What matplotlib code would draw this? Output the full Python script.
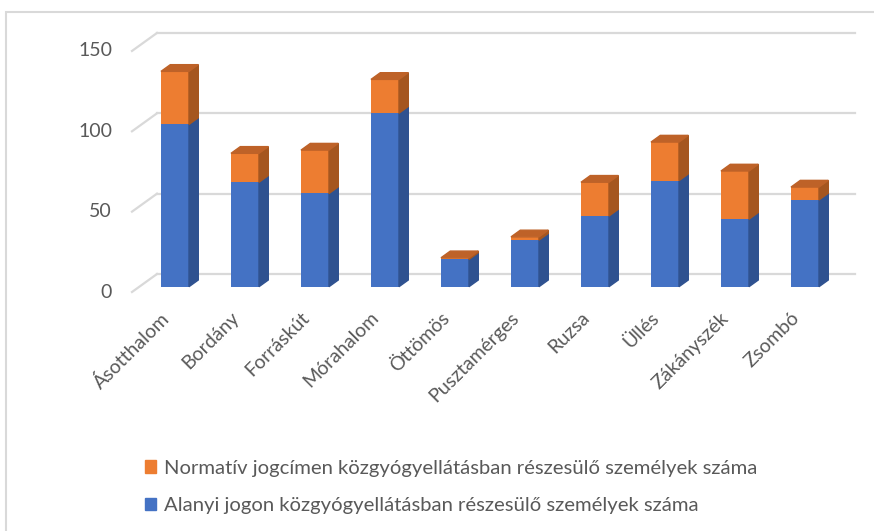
import matplotlib.pyplot as plt
from matplotlib.patches import Polygon, Rectangle, Patch

# Data
telepulesek = ["Ásotthalom", "Bordány", "Forráskút", "Mórahalom", "Öttömös",
               "Pusztamérges", "Ruzsa", "Üllés", "Zákányszék", "Zsombó"]
alanyi = [101, 65, 58, 108, 17, 29, 44, 66, 42, 54]
normativ = [33, 18, 27, 21, 1, 2, 21, 24, 30, 8]
y_ticks = [0, 50, 100, 150]

lbl_normativ = "Normatív jogcímen közgyógyellátásban részesülő személyek száma"
lbl_alanyi = "Alanyi jogon közgyógyellátásban részesülő személyek száma"

# colours
blue, blue_side = "#4472C4", "#2F5290"
orange, orange_side, orange_top = "#ED7D31", "#A5561F", "#BE6228"
grid_c = "#D9D9D9"
text_c = "#595959"
font = "Lato"

W, H = 874, 531
fig = plt.figure(figsize=(W / 100, H / 100), dpi=100)

# axes placed in pixels, 70 px per category, 1.607 px per unit
x0, x1, y0, y1 = 95, 870, 15, 300
px_cat, px_val = 70.0, 1.607
cx0, base = 175, 286.7
ax = fig.add_axes([x0 / W, 1 - y1 / H, (x1 - x0) / W, (y1 - y0) / H])
ax.set_xlim((x0 - cx0) / px_cat, (x1 - cx0) / px_cat)
ax.set_ylim((base - y1) / px_val, (base - y0) / px_val)
ax.axis("off")

# depth offsets (data units)
bw = 28 / px_cat
bdx, bdy = 9.3 / px_cat, 6.7 / px_val
wall_x0, wall_x1 = (157 - cx0) / px_cat, (855 - cx0) / px_cat
front_x = (132 - cx0) / px_cat
back_dy, front_dy = (base - 274) / px_val, (base - 292) / px_val

# gridlines (back wall + left side)
for v in y_ticks:
    ax.plot([wall_x0, wall_x1], [v + back_dy, v + back_dy], color=grid_c, lw=1.6, zorder=0)
    ax.plot([front_x, wall_x0], [v + front_dy, v + back_dy], color=grid_c, lw=1.6, zorder=0)
    ax.text((112 - cx0) / px_cat, v + front_dy, str(v), ha="right", va="center",
            fontsize=14, color=text_c, family=font)

# 3D looking stacked bars
for i, (a, n) in enumerate(zip(alanyi, normativ)):
    r = i + bw / 2
    ax.bar(i, a, width=bw, color=blue, zorder=2)
    ax.add_patch(Polygon([(r, 0), (r + bdx, bdy), (r + bdx, a + bdy), (r, a)],
                         closed=True, color=blue_side, zorder=2))
    t = a + n
    ax.bar(i, n, bottom=a, width=bw, color=orange, zorder=2)
    ax.add_patch(Polygon([(r, a), (r + bdx, a + bdy), (r + bdx, t + bdy), (r, t)],
                         closed=True, color=orange_side, zorder=2))
    ax.add_patch(Polygon([(i - bw / 2, t), (r, t), (r + bdx, t + bdy), (i - bw / 2 + bdx, t + bdy)],
                         closed=True, color=orange_top, zorder=2))
    ax.text(i - 0.21, -13.9, telepulesek[i], rotation=45, rotation_mode="anchor",
            ha="right", va="top", fontsize=14, color=text_c, family=font)

# legend
handles = [Patch(color=orange, label=lbl_normativ), Patch(color=blue, label=lbl_alanyi)]
fig.legend(handles=handles, loc="upper left", bbox_to_anchor=(127 / W, 1 - 441.5 / H),
           frameon=False, handlelength=0.55, handleheight=0.55, handletextpad=0.35,
           labelspacing=1.0, prop={"family": font, "size": 14.6}, labelcolor=text_c)

# chart frame
fig.add_artist(Rectangle((5.5 / W, -0.1), 1.0, 1 - 12 / H + 0.1, transform=fig.transFigure,
                         fill=False, edgecolor=grid_c, lw=1.5))

fig.savefig("out.png", dpi=100)
